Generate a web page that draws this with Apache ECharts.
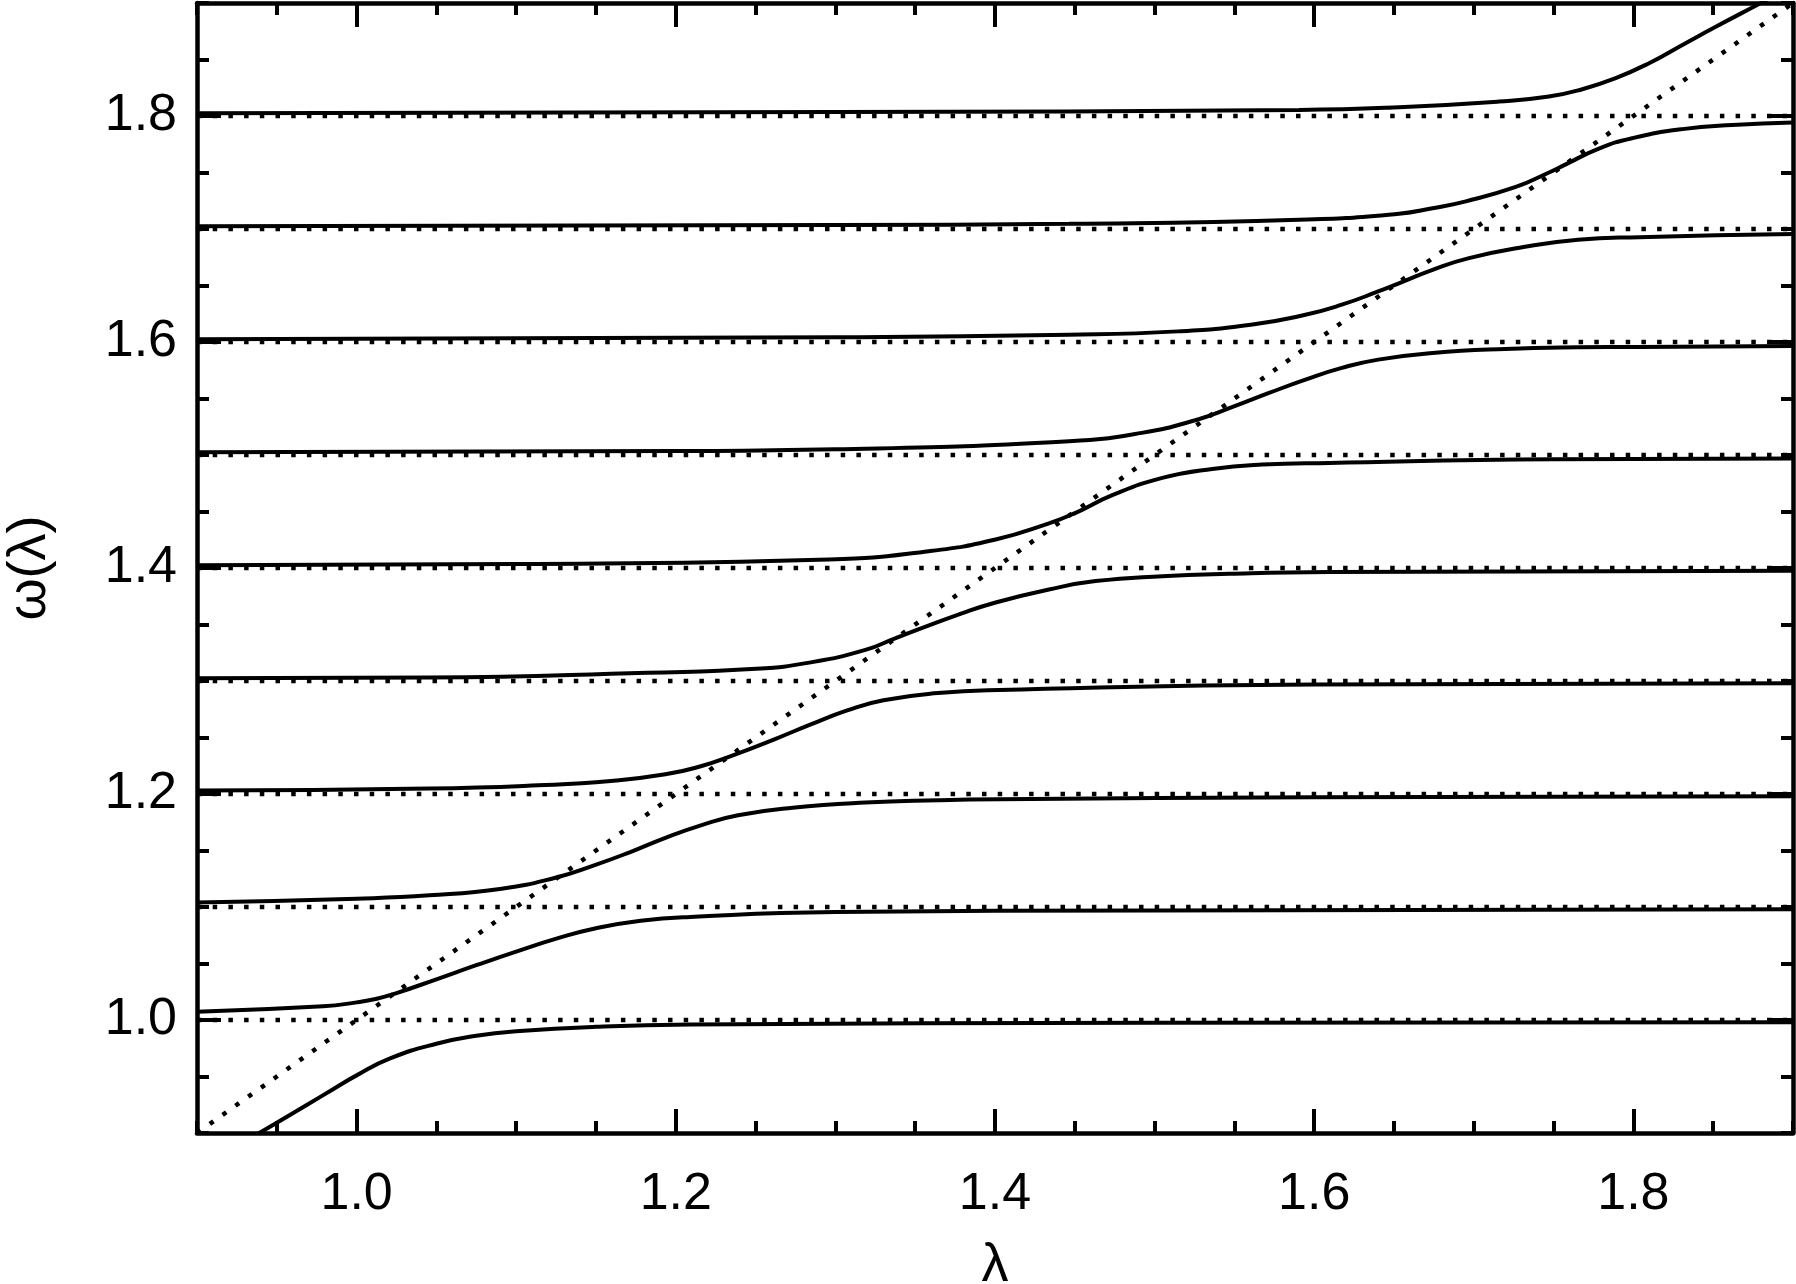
<!DOCTYPE html>
<html>
<head>
<meta charset="utf-8">
<title>omega(lambda)</title>
<script src="https://cdn.jsdelivr.net/npm/echarts@6/dist/echarts.min.js"></script>
<style>
  html, body { margin: 0; padding: 0; background: #fff; }
  #main { width: 1796px; height: 1284px; }
</style>
</head>
<body>
<div id="main"></div>
<script>
// solid branches, [lambda, omega] pairs (bottom to top)
var branch0 = [[0.93,0.893],[0.939,0.900],[0.95,0.909],[0.969,0.925],[0.985,0.9385],[1.0,0.951],[1.021,0.966],[1.05,0.979],[1.075,0.986],[1.1,0.990],[1.15,0.994],[1.209,0.996],[1.5,0.9975],[1.9,0.998]];
var branch1 = [[0.9,1.0074],[0.979,1.0122],[1.0,1.0156],[1.0126,1.0188],[1.025,1.0238],[1.05,1.036],[1.075,1.0485],[1.1,1.0605],[1.1257,1.0722],[1.15,1.0812],[1.178,1.0878],[1.209,1.0912],[1.3,1.0955],[1.5,1.097],[1.9,1.098]];
var branch2 = [[0.9,1.104],[1.0,1.1074],[1.0455,1.1103],[1.0909,1.1162],[1.1251,1.1261],[1.1479,1.1364],[1.1707,1.1482],[1.1935,1.1612],[1.2162,1.1725],[1.239,1.1812],[1.2732,1.1878],[1.3188,1.1924],[1.3643,1.1944],[1.4026,1.1953],[1.6,1.1972],[1.9,1.198]];
var branch3 = [[0.9,1.203],[1.0454,1.2048],[1.1137,1.2077],[1.1593,1.2115],[1.1935,1.2174],[1.2162,1.2248],[1.2345,1.2336],[1.2618,1.2484],[1.2846,1.2616],[1.3074,1.274],[1.3301,1.283],[1.3643,1.2893],[1.4026,1.292],[1.6,1.297],[1.9,1.298]];
var branch4 = [[0.9,1.3025],[1.0454,1.303],[1.182,1.3073],[1.2504,1.3108],[1.2846,1.3165],[1.3188,1.3275],[1.3378,1.338],[1.3796,1.36],[1.4004,1.3695],[1.4338,1.381],[1.463,1.3884],[1.5048,1.3928],[1.5466,1.3949],[1.6093,1.3964],[1.9,1.3975]];
var branch5 = [[0.9,1.4025],[1.1,1.4035],[1.296,1.4075],[1.3586,1.4149],[1.4004,1.4252],[1.4338,1.4395],[1.4505,1.4488],[1.4735,1.4645],[1.5048,1.4797],[1.5361,1.4877],[1.5675,1.4915],[1.6093,1.493],[1.75,1.4962],[1.9,1.497]];
var branch6 = [[0.9,1.5025],[1.2,1.5035],[1.3,1.505],[1.4464,1.5122],[1.4919,1.5196],[1.5261,1.531],[1.5489,1.5425],[1.5717,1.5549],[1.5945,1.5667],[1.6173,1.5771],[1.6401,1.5844],[1.6742,1.5903],[1.7197,1.5939],[1.7653,1.5953],[1.8036,1.5956],[1.9,1.5965]];
var branch7 = [[0.9,1.6025],[1.3,1.6042],[1.4464,1.6064],[1.5147,1.6094],[1.5603,1.6153],[1.5945,1.6241],[1.6173,1.633],[1.6401,1.6447],[1.656,1.6536],[1.6742,1.6639],[1.697,1.6742],[1.7311,1.684],[1.7653,1.6905],[1.8036,1.6928],[1.9,1.6955]];
var branch8 = [[0.9,1.7025],[1.3,1.7035],[1.4464,1.7046],[1.5905,1.7081],[1.6531,1.7135],[1.6742,1.7184],[1.695,1.7245],[1.7263,1.7372],[1.7471,1.7500],[1.7576,1.7572],[1.7784,1.7712],[1.7994,1.7804],[1.8307,1.7884],[1.862,1.7921],[1.9,1.7942]];
var branch9 = [[0.9,1.8025],[1.3,1.8035],[1.5905,1.8054],[1.6531,1.8078],[1.7158,1.8128],[1.7471,1.8172],[1.768,1.8237],[1.7889,1.8335],[1.8098,1.8467],[1.8307,1.8629],[1.8516,1.879],[1.8787,1.8991],[1.9,1.915]];

// dotted guides: uncoupled levels and the diagonal omega = lambda
var levels = [1.0, 1.1, 1.2, 1.3, 1.4, 1.5, 1.6, 1.7, 1.8];
var lamRange = [0.9, 1.9];
var diagonal = [[0.9, 0.9], [1.9, 1.9]];

// axis ticks
var majorTicks = [1.0, 1.2, 1.4, 1.6, 1.8];
var minorStep = 0.05;

var font = 'Liberation Sans';
var branches = [branch0, branch1, branch2, branch3, branch4, branch5, branch6, branch7, branch8, branch9];

function frameAxis(pos, major, labels) {
    var ax = {
        type: 'value',
        min: lamRange[0],
        max: lamRange[1],
        position: pos,
        axisLine: { show: major, onZero: false, lineStyle: { color: '#000', width: 4.5 } },
        axisTick: { show: true, inside: true, length: major ? 24 : 12, lineStyle: { color: '#000', width: 4 } },
        axisLabel: { show: labels },
        splitLine: { show: false }
    };
    if (major) {
        ax.axisTick.customValues = majorTicks;
        ax.axisLabel.customValues = majorTicks;
    } else {
        ax.interval = minorStep;
    }
    if (labels) {
        ax.axisLabel.formatter = function (v) { return v.toFixed(1); };
        ax.axisLabel.fontSize = 52;
        ax.axisLabel.fontFamily = font;
        ax.axisLabel.color = '#000';
    }
    return ax;
}

var xMain = frameAxis('bottom', true, true);
xMain.axisLabel.margin = 36;
xMain.name = 'λ';
xMain.nameLocation = 'middle';
xMain.nameGap = 106;
xMain.nameTextStyle = { fontSize: 54, fontFamily: font, color: '#000' };

var yMain = frameAxis('left', true, true);
yMain.axisLabel.margin = 20;
yMain.name = 'ω(λ)';
yMain.nameLocation = 'middle';
yMain.nameGap = 140;
yMain.nameTextStyle = { fontSize: 54, fontFamily: font, color: '#000' };

var dotted = { color: '#000', width: 4.5, type: [4.5, 11.2] };

var series = [];
levels.forEach(function (lv) {
    series.push({
        type: 'line', data: [[lamRange[0], lv], [lamRange[1], lv]],
        showSymbol: false, silent: true, lineStyle: dotted
    });
});
series.push({
    type: 'line', data: diagonal,
    showSymbol: false, silent: true, lineStyle: dotted
});
branches.forEach(function (b) {
    series.push({
        type: 'line', data: b,
        showSymbol: false, silent: true,
        smooth: 0.5,
        lineStyle: { color: '#000', width: 4 }
    });
});

var chart = echarts.init(document.getElementById('main'));
chart.setOption({
    animation: false,
    backgroundColor: '#fff',
    grid: { left: 197, right: 3, top: 3, bottom: 151, outerBoundsMode: 'none', containLabel: false },
    xAxis: [
        xMain,
        frameAxis('bottom', false, false),
        frameAxis('top', true, false),
        frameAxis('top', false, false)
    ],
    yAxis: [
        yMain,
        frameAxis('left', false, false),
        frameAxis('right', true, false),
        frameAxis('right', false, false)
    ],
    series: series
});
</script>
</body>
</html>
